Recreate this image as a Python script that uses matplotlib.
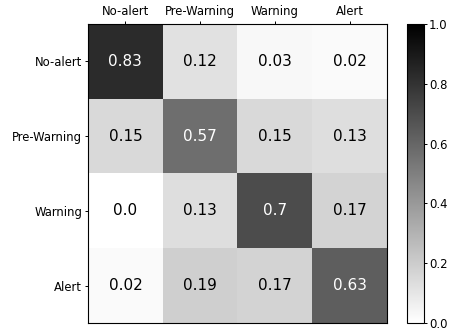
import numpy as np
import matplotlib
matplotlib.use('Agg')
import matplotlib.pyplot as plt

labels = ['No-alert', 'Pre-Warning', 'Warning', 'Alert']
row_noalert = [0.83, 0.12, 0.03, 0.02]
row_prewarn = [0.15, 0.57, 0.15, 0.13]
row_warning = [0.0, 0.13, 0.7, 0.17]
row_alert = [0.02, 0.19, 0.17, 0.63]

cm = np.array([row_noalert, row_prewarn, row_warning, row_alert])

fig = plt.figure(figsize=(4.49, 3.3), dpi=100)
ax = fig.add_axes([88/449, 1-323/330, 299/449, 299/330])
cax = fig.add_axes([407/449, 1-323/330, 17/449, 299/330])

im = ax.imshow(cm, cmap='gray_r', vmin=0, vmax=1, aspect='auto')
ax.set_xticks(range(len(labels)))
ax.set_yticks(range(len(labels)))
ax.set_xticklabels(labels, fontsize=8.4)
ax.set_yticklabels(labels, fontsize=8.4)
ax.xaxis.tick_top()
ax.tick_params(length=2, pad=2.2, width=0.7)
for s in ax.spines.values():
    s.set_linewidth(0.8)

for i in range(cm.shape[0]):
    for j in range(cm.shape[1]):
        c = 'white' if cm[i, j] > 0.5 else 'black'
        ax.text(j, i, str(cm[i, j]), ha='center', va='center', color=c, fontsize=11)

cb = fig.colorbar(im, cax=cax)
cb.ax.tick_params(labelsize=8.4, length=2, pad=1.5, width=0.7)
cb.outline.set_linewidth(0.8)

fig.savefig('out.png', dpi=100)
